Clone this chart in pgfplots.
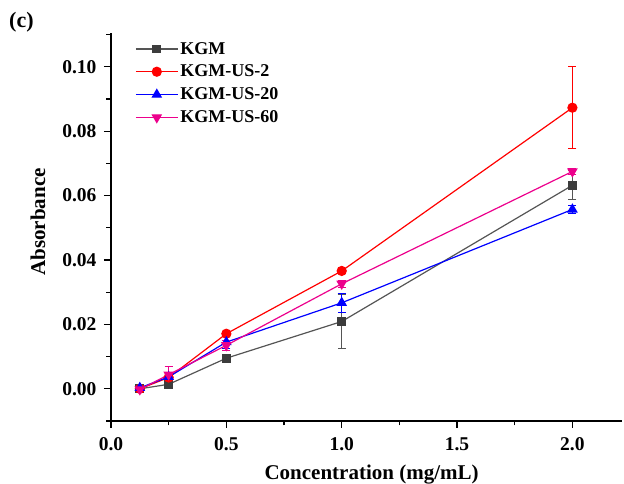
\documentclass[border=0pt]{standalone}
\usepackage{pgfplots}
\pgfplotsset{compat=1.18}
\usepackage{fontspec}
\setmainfont{Liberation Serif}
\definecolor{kgm}{HTML}{3C3C3C}
\definecolor{kgmline}{HTML}{555555}
\begin{document}
\begin{tikzpicture}
\path[use as bounding box] (-111pt,-63pt) rectangle (513pt,421pt);
\begin{axis}[
  at={(0,0)}, anchor=south west,
  scale only axis, width=511pt, height=388pt,
  xmin=0, xmax=2.215, ymin=-0.01, ymax=0.1105,
  axis x line*=bottom, axis y line*=left,
  axis line style={line width=1.4pt,-},
  xtick={0,0.5,1,1.5,2}, minor xtick={0.25,0.75,1.25,1.75,2.25},
  ytick={0,0.02,0.04,0.06,0.08,0.1}, minor ytick={-0.01,0.01,0.03,0.05,0.07,0.09,0.11},
  tick align=outside, tick style={line width=1.2pt,black},
  major tick length=7pt, minor tick length=4.5pt,
  xticklabel style={/pgf/number format/fixed,/pgf/number format/fixed zerofill,/pgf/number format/precision=1, yshift=-6pt},
  yticklabel style={/pgf/number format/fixed,/pgf/number format/fixed zerofill,/pgf/number format/precision=2, xshift=-4pt},
  /pgf/number format/assume math mode=true,
  ticklabel style={font=\bfseries\fontsize{19.5}{19.5}\selectfont},
  scaled y ticks=false,
  xlabel={Concentration (mg/mL)}, ylabel={Absorbance},
  label style={font=\bfseries\fontsize{21}{21}\selectfont},
  xlabel style={at={(axis description cs:0.51,0)}, anchor=center, yshift=-54pt},
  ylabel style={at={(axis description cs:-0.143,0.513)}, anchor=center},
  legend style={draw=none, fill=none, at={(24pt,381pt)}, anchor=north west,
    font=\bfseries\fontsize{18}{18}\selectfont, row sep=5.4pt, inner sep=0pt},
  legend cell align=left,
  legend image code/.code={\draw[#1] (0pt,0pt) -- (21pt,0pt) plot coordinates {(21pt,0pt)} -- (42pt,0pt);},
  every axis plot/.append style={line width=1.2pt},
  error bars/y dir=both, error bars/y explicit,
  error bars/error bar style={line width=0.9pt},
  error bars/error mark options={rotate=90, mark size=4pt, line width=0.9pt},
]
\addplot[color=kgmline, mark=square*, mark size=3.8pt, mark options={fill=kgm,draw=kgm}]
 table[x=x,y=y,y error=e]{
x y e
0.125 0 0.0005
0.25 0.0014 0.0008
0.5 0.0095 0.0005
1 0.0209 0.0085
2 0.0632 0.0045
};
\addlegendentry{KGM}
\addplot[color=red, mark=*, mark size=4.5pt, mark options={fill=red}]
 table[x=x,y=y,y error=e]{
x y e
0.125 0 0.0005
0.25 0.0035 0.001
0.5 0.0171 0.0005
1 0.0366 0.0008
2 0.0873 0.0128
};
\addlegendentry{KGM-US-2}
\addplot[color=blue, mark=triangle*, mark size=5pt, mark options={fill=blue}]
 table[x=x,y=y,y error=e]{
x y e
0.125 0.0003 0.0005
0.25 0.0037 0.001
0.5 0.0145 0.002
1 0.0267 0.003
2 0.0557 0.0012
};
\addlegendentry{KGM-US-20}
\addplot[color=magenta, mark=triangle*, mark size=5pt, mark options={fill=magenta, rotate=180}]
 table[x=x,y=y,y error=e]{
x y e
0.125 -0.0002 0.0005
0.25 0.0044 0.0024
0.5 0.0135 0.0016
1 0.0326 0.001
2 0.0675 0.001
};
\addlegendentry{KGM-US-60}
\end{axis}
\node[font=\bfseries\fontsize{22}{22}\selectfont, anchor=west, inner sep=0pt] at (-102pt,399pt) {(c)};
\end{tikzpicture}
\end{document}
